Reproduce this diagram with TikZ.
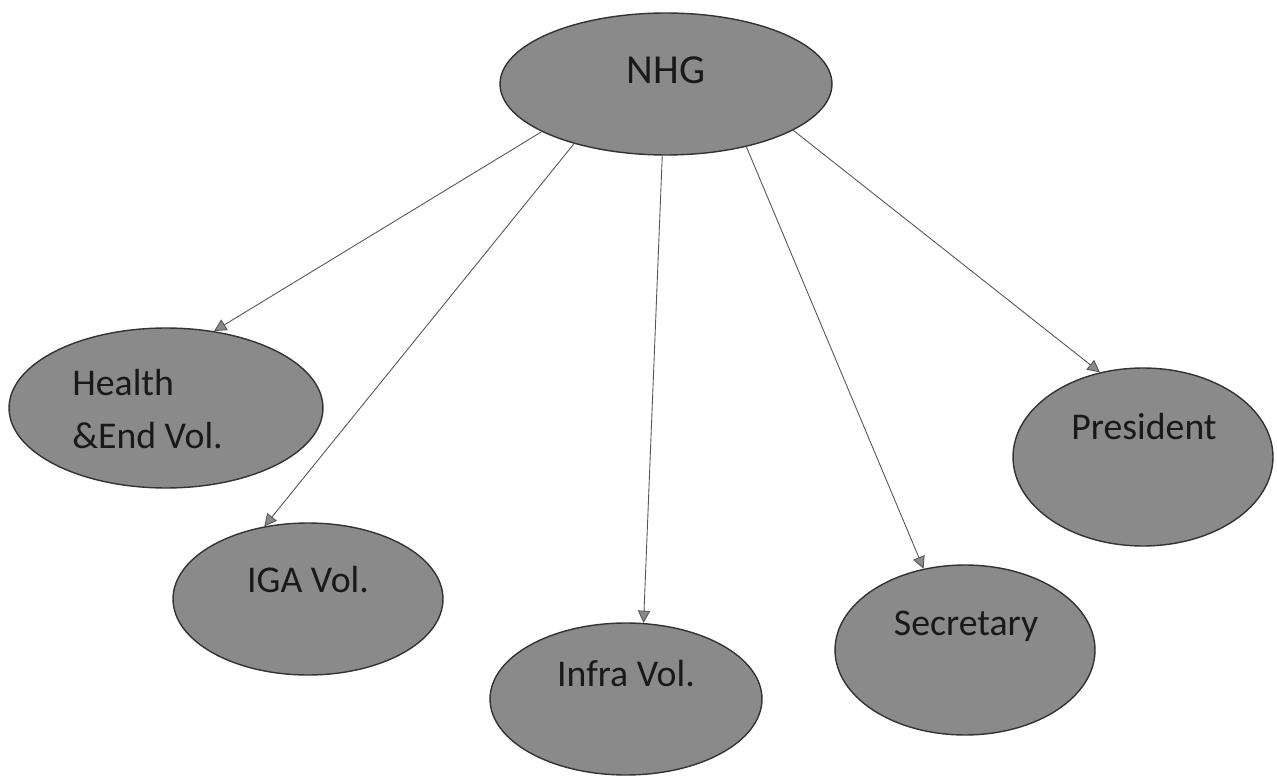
\documentclass[tikz,border=0pt]{standalone}
\usepackage{fontspec}
\setmainfont{Carlito}
\usetikzlibrary{shapes.geometric,arrows.meta,calc}
\definecolor{ellgray}{RGB}{138,138,138}
\definecolor{linegray}{RGB}{85,85,85}
\begin{document}
\begin{tikzpicture}[x=0.02cm,y=-0.02cm,
  blob/.style={ellipse, draw=black!80, fill=ellgray, line width=0.8pt, inner sep=0pt},
  lbl/.style={font=\fontsize{21.5pt}{30pt}\selectfont, text=black!90, inner sep=0pt},
  conn/.style={draw=linegray, line width=0.5pt, -{Triangle[length=7pt,width=7pt,fill=ellgray]}}]
\clip (0,0) rectangle (1277,776);
\fill[white] (0,0) rectangle (1277,776);
% ellipses
\node[blob, minimum width=6.64cm, minimum height=2.84cm] (nhg) at (666,84) {};
\node[blob, minimum width=6.28cm, minimum height=3.2cm] (health) at (166,408) {};
\node[blob, minimum width=5.4cm, minimum height=3.04cm] (iga) at (308,599) {};
\node[blob, minimum width=5.44cm, minimum height=3.04cm] (infra) at (626,699) {};
\node[blob, minimum width=5.2cm, minimum height=3.4cm] (secr) at (965,650) {};
\node[blob, minimum width=5.2cm, minimum height=3.56cm] (pres) at (1143,457) {};
% labels
\node[lbl, font=\fontsize{23.5pt}{28pt}\selectfont] (nhgt) at ($(nhg.center)+(0,-14)$) {NHG};
\node[lbl, align=left, anchor=west] (healtht) at ($(health.center)+(-94,1)$) {Health\\\&End Vol.};
\node[lbl] (igat) at ($(iga.center)+(0,-19)$) {IGA Vol.};
\node[lbl] (infrat) at ($(infra.center)+(0,-25)$) {Infra Vol.};
\node[lbl] (secrt) at ($(secr.center)+(1,-24)$) {Secretary};
\node[lbl] (prest) at ($(pres.center)+(1,-30)$) {President};
% connectors
\draw[conn] (nhg.201.3) -- (health.58.9);
\draw[conn] (nhg.213) -- (iga.121.5);
\draw[conn] (nhg.267.6) -- (infra.77.5);
\draw[conn] (nhg.322.6) -- (secr.117.9);
\draw[conn] (nhg.340) -- (pres.117.6);
\end{tikzpicture}
\end{document}
